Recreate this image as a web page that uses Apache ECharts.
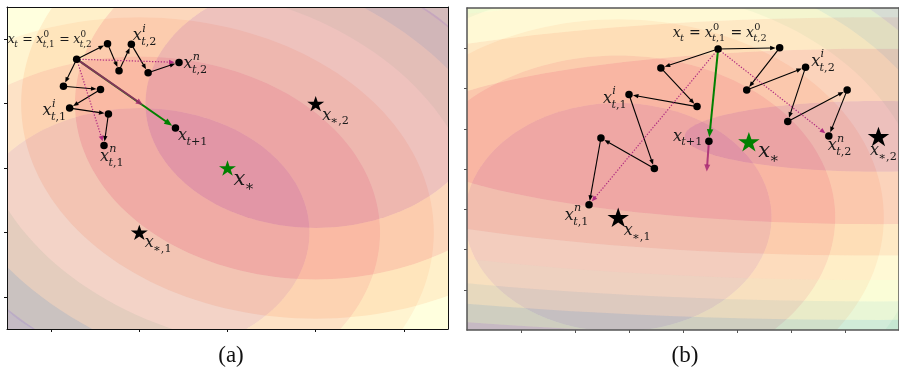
<!DOCTYPE html>
<html>
<head>
<meta charset="utf-8">
<script src="https://cdn.jsdelivr.net/npm/echarts@6/dist/echarts.min.js"></script>
<style>
  html, body { margin: 0; padding: 0; background: #fff; }
  #chart { width: 899px; height: 371px; }
</style>
</head>
<body>
<div id="chart"></div>
<script>
// ---------------- panel (a): two round objectives ----------------
const aOpt  = [0, 0];        // x_*
const aOpt1 = [-1, -1];      // x_{*,1}
const aOpt2 = [1, 1];        // x_{*,2}
const aRadii1 = [1.93, 2.73, 3.34, 3.86, 4.32, 4.73];   // contour radii around x_{*,1}
const aRadii2 = [1.93, 2.73, 3.34, 3.86, 4.32, 4.73];   // contour radii around x_{*,2}
const aXt = [-1.71, 1.69];
const aPath1 = [[-1.86, 1.27], [-1.44, 1.22], [-1.79, 0.93], [-1.35, 0.84], [-1.40, 0.35]];
const aPath2 = [[-1.36, 1.93], [-1.23, 1.51], [-1.09, 1.92], [-0.90, 1.48], [-0.55, 1.64]];
const aMean  = [-0.96, 0.98];
const aXnext = [-0.59, 0.62];

// ---------------- panel (b): round vs. elongated objective ----------------
const bOpt  = [5.22, 4.68];
const bOpt1 = [2.80, 2.80];
const bOpt2 = [7.62, 4.81];
const bRadii1  = [2.84, 4.02, 4.92, 5.68, 6.35, 6.96];
const bRadiiX2 = [3.59, 8.90, 12.1, 14.6, 16.7, 18.6, 20.3];
const bRadiiY2 = [0.88, 2.18, 2.96, 3.57, 4.10, 4.56, 4.98];
const bXt = [4.65, 6.98];
const bPath1 = [[3.59, 6.51], [4.26, 5.55], [3.00, 5.85], [3.47, 4.01], [2.48, 4.77], [2.26, 3.11]];
const bPath2 = [[5.79, 7.01], [5.18, 5.96], [6.27, 6.53], [5.94, 5.18], [7.04, 5.96], [6.70, 4.82]];
const bXnext = [4.48, 4.69];
const bDrift = [4.44, 3.94];

// axis ticks
const aTicks = [-2, -1, 0, 1, 2];
const bTicks = [1, 2, 3, 4, 5, 6, 7];

// label texts (TeX-like)
const aLabelText = ['x_t = x^0_{t,1} = x^0_{t,2}', 'x^i_{t,2}', 'x^n_{t,2}', 'x^i_{t,1}', 'x^n_{t,1}', 'x_{t+1}', 'x_*', 'x_{*,1}', 'x_{*,2}'];
const bLabelText = ['x_t = x^0_{t,1} = x^0_{t,2}', 'x^i_{t,2}', 'x^n_{t,2}', 'x^i_{t,1}', 'x^n_{t,1}', 'x_{t+1}', 'x_*', 'x_{*,1}', 'x_{*,2}'];
const aLabelAt = [aXt, aPath2[2], aPath2[4], aPath1[2], aPath1[4], aXnext, aOpt, aOpt1, aOpt2];
const bLabelAt = [bXt, bPath2[2], bPath2[5], bPath1[2], bPath1[5], bXnext, bOpt, bOpt1, bOpt2];

// ---------------- styling ----------------
// label placement relative to its anchor: [dx, dy, font size] in pixels
const aLabelLayout = [[-69, -18, 12.5], [1.5, -7, 16], [4.5, 3, 16], [-27, 4.2, 16], [-4, 12.7, 16], [2.5, 9.5, 16], [6, 13.3, 21], [5.5, 12, 16], [6.5, 13.3, 16]];
const bLabelLayout = [[-45.3, -14.5, 14], [5.6, -4, 16], [-1, 11.5, 16], [-26, 5.6, 16], [-24.3, 12.3, 16], [-36, -3.3, 16], [9.3, 12.1, 21], [5.6, 15.2, 16], [-8.4, 15.8, 16]];

const SPECTRAL = ['#9e0142', '#d53e4f', '#f46d43', '#fdae61', '#fee08b', '#ffffbf', '#e6f598', '#abdda4', '#66c2a5', '#3288bd', '#5e4fa2'];
const BAND_ALPHA = 0.29;
const MATH = '"DejaVu Serif", "Liberation Serif", serif';
const SERIF = '"Liberation Serif", "DejaVu Serif", serif';
const INK = '#1a1a1a';
const STAR = 'path://M0,-100 L22.45,-30.9 L95.1,-30.9 L36.3,11.8 L58.8,80.9 L0,38.2 L-58.8,80.9 L-36.3,11.8 L-95.1,-30.9 L-22.45,-30.9 Z';

const ARROW_STYLES = [
  { color: '#000000', width: 1.1, head: [5.5, 2.2], gap: 4,   dash: null },        // inner steps
  { color: '#b02c80', width: 1.2, head: [5.5, 2.4], gap: 4.5, dash: [1.3, 1.6] },  // accumulated local updates
  { color: '#008000', width: 2,   head: [8, 3.2],   gap: 4,   dash: null },        // global step
  { color: '#a3206f', width: 2,   head: [7, 3],     gap: 0,   dash: null, opacity: 0.8 } // averaged update
];

function hexRgb(h) { return [1, 3, 5].map(i => parseInt(h.slice(i, i + 2), 16)); }
function spectral(t, a) {
  const s = Math.max(0, Math.min(1, t)) * (SPECTRAL.length - 1);
  const i = Math.min(Math.floor(s), SPECTRAL.length - 2), f = s - i;
  const c0 = hexRgb(SPECTRAL[i]), c1 = hexRgb(SPECTRAL[i + 1]);
  const c = c0.map((v, k) => Math.round(v + (c1[k] - v) * f));
  return 'rgba(' + c.join(',') + ',' + a + ')';
}

// filled contour bands: one item per band between consecutive ellipses
function bandItems(centre, rx, ry) {
  const n = rx.length + 1, items = [];
  for (let i = 0; i < n; i++) {
    const inX = i > 0 ? rx[i - 1] : 0, inY = i > 0 ? ry[i - 1] : 0;
    const outX = i < rx.length ? rx[i] : rx[rx.length - 1] * 5;
    const outY = i < ry.length ? ry[i] : ry[ry.length - 1] * 5;
    items.push([centre[0], centre[1], inX, inY, outX, outY, i, n]);
  }
  return items;
}
function renderBand(params, api) {
  const cx = api.value(0), cy = api.value(1);
  const inX = api.value(2), inY = api.value(3), outX = api.value(4), outY = api.value(5);
  const i = api.value(6), n = api.value(7);
  const K = 180, pts = [];
  for (let k = 0; k <= K; k++) {
    const t = 2 * Math.PI * k / K;
    pts.push(api.coord([cx + outX * Math.cos(t), cy + outY * Math.sin(t)]));
  }
  if (inX > 0) {
    for (let k = K; k >= 0; k--) {
      const t = 2 * Math.PI * k / K;
      pts.push(api.coord([cx + inX * Math.cos(t), cy + inY * Math.sin(t)]));
    }
  }
  return { type: 'polygon', silent: true, shape: { points: pts }, style: { fill: spectral((i + 0.5) / n, BAND_ALPHA), stroke: null } };
}

function renderArrow(params, api) {
  const s = ARROW_STYLES[api.value(4)];
  const a = api.coord([api.value(0), api.value(1)]);
  const b = api.coord([api.value(2), api.value(3)]);
  let dx = b[0] - a[0], dy = b[1] - a[1];
  const len = Math.hypot(dx, dy); dx /= len; dy /= len;
  const tip = [b[0] - dx * s.gap, b[1] - dy * s.gap];
  const base = [tip[0] - dx * s.head[0], tip[1] - dy * s.head[0]];
  const px = -dy * s.head[1], py = dx * s.head[1];
  const op = s.opacity || 1;
  return {
    type: 'group', silent: true,
    children: [
      { type: 'line', shape: { x1: a[0], y1: a[1], x2: base[0] + dx, y2: base[1] + dy },
        style: { stroke: s.color, lineWidth: s.width, lineDash: s.dash, opacity: op } },
      { type: 'polygon', shape: { points: [tip, [base[0] + px, base[1] + py], [base[0] - px, base[1] - py]] },
        style: { fill: s.color, opacity: op } }
    ]
  };
}

// ---- tiny math typesetter ----
const mctx = document.createElement('canvas').getContext('2d');
function measure(txt, size, italic) {
  mctx.font = (italic ? 'italic ' : '') + size + 'px ' + MATH;
  return mctx.measureText(txt).width;
}
function textEl(ch, x, y, size, italic) {
  return { type: 'text', x: x, y: y, silent: true,
    style: { text: ch, fontSize: size, fontFamily: MATH, fontStyle: italic ? 'italic' : 'normal',
             fill: INK, align: 'left', verticalAlign: 'middle' } };
}
function parseTex(s) {
  const atoms = []; let i = 0;
  const group = () => {
    if (s[i] === '{') { const j = s.indexOf('}', i); const g = s.slice(i + 1, j); i = j + 1; return g; }
    return s[i++];
  };
  while (i < s.length) {
    const c = s[i];
    if (c === '^' || c === '_') { i++; const g = group(); const at = atoms[atoms.length - 1]; if (c === '^') at.sup = g; else at.sub = g; continue; }
    if (c === ' ') { i++; continue; }
    atoms.push(c === '=' ? { base: '=', op: true } : { base: c });
    i++;
  }
  return atoms;
}
function scriptRun(str, size, x0, y, out) {
  let x = x0;
  for (const c0 of str) {
    const c = c0 === '*' ? '\u2217' : c0;
    const it = /[a-z]/i.test(c);
    out.push(textEl(c, x, y, size, it));
    x += measure(c, size, it);
  }
  return x - x0;
}
function typeset(tex, size, x0, yMid, out) {
  const ss = Math.round(size * 0.7 * 10) / 10;
  let x = x0;
  for (const a of parseTex(tex)) {
    if (a.op) {
      x += size * 0.28;
      out.push(textEl('=', x, yMid, size, false));
      x += measure('=', size, false) + size * 0.28;
      continue;
    }
    const it = /[a-z]/i.test(a.base);
    out.push(textEl(a.base, x, yMid, size, it));
    x += measure(a.base, size, it);
    let w = 0;
    if (a.sup) w = Math.max(w, scriptRun(a.sup, ss, x + 0.3, yMid - 0.45 * size, out));
    if (a.sub) w = Math.max(w, scriptRun(a.sub, ss, x - 0.6, yMid + 0.37 * size, out));
    x += w + size * 0.04;
  }
}
function labelRenderer(texts, layout) {
  return function (params, api) {
    const p = api.coord([api.value(0), api.value(1)]);
    const L = layout[params.dataIndex];
    const out = [];
    typeset(texts[params.dataIndex], L[2], p[0] + L[0], p[1] + L[1] - 0.09 * L[2], out);
    return { type: 'group', children: out };
  };
}

function seg(from, to, kind) { return [from[0], from[1], to[0], to[1], kind]; }
function chain(start, pts, kind) {
  const out = []; let prev = start;
  pts.forEach(p => { out.push(seg(prev, p, kind)); prev = p; });
  return out;
}

function panelSeries(ax, p) {
  const base = { xAxisIndex: ax, yAxisIndex: ax };
  return [
    Object.assign({ type: 'custom', z: 1, clip: true, renderItem: renderBand, data: bandItems(p.c1, p.rx1, p.ry1) }, base),
    Object.assign({ type: 'custom', z: 1, clip: true, renderItem: renderBand, data: bandItems(p.c2, p.rx2, p.ry2) }, base),
    Object.assign({ type: 'custom', z: 3, renderItem: renderArrow, data: p.arrows }, base),
    Object.assign({ type: 'scatter', z: 4, symbol: 'circle', symbolSize: 7.5, silent: true,
                    itemStyle: { color: '#000', opacity: 1 }, data: p.dots }, base),
    Object.assign({ type: 'scatter', z: 5, symbol: STAR, symbolSize: p.starSize, symbolKeepAspect: true, silent: true,
                    itemStyle: { opacity: 1 }, data: p.stars }, base),
    Object.assign({ type: 'custom', z: 6, renderItem: labelRenderer(p.texts, p.layout), data: p.labelAt }, base)
  ];
}

const panelA = {
  c1: aOpt1, rx1: aRadii1, ry1: aRadii1,
  c2: aOpt2, rx2: aRadii2, ry2: aRadii2,
  arrows: [].concat(
    chain(aXt, aPath1, 0), chain(aXt, aPath2, 0),
    [seg(aXt, aPath1[aPath1.length - 1], 1), seg(aXt, aPath2[aPath2.length - 1], 1)],
    [seg(aXt, aXnext, 2), seg(aXt, aMean, 3)]
  ),
  dots: [aXt].concat(aPath1, aPath2, [aXnext]),
  stars: [
    { value: aOpt1, itemStyle: { color: '#000', opacity: 1 } },
    { value: aOpt2, itemStyle: { color: '#000', opacity: 1 } },
    { value: aOpt,  itemStyle: { color: '#008000', opacity: 1 } }
  ],
  starSize: [17, 16.2],
  texts: aLabelText, labelAt: aLabelAt, layout: aLabelLayout
};
const panelB = {
  c1: bOpt1, rx1: bRadii1, ry1: bRadii1,
  c2: bOpt2, rx2: bRadiiX2, ry2: bRadiiY2,
  arrows: [].concat(
    chain(bXt, bPath1, 0), chain(bXt, bPath2, 0),
    [seg(bXt, bPath1[bPath1.length - 1], 1), seg(bXt, bPath2[bPath2.length - 1], 1)],
    [seg(bXt, bXnext, 2), seg(bXnext, bDrift, 3)]
  ),
  dots: [bXt].concat(bPath1, bPath2, [bXnext]),
  stars: [
    { value: bOpt1, itemStyle: { color: '#000', opacity: 1 } },
    { value: bOpt2, itemStyle: { color: '#000', opacity: 1 } },
    { value: bOpt,  itemStyle: { color: '#008000', opacity: 1 } }
  ],
  starSize: [21.5, 20.5],
  texts: bLabelText, labelAt: bLabelAt, layout: bLabelLayout
};

function frameAxis(grid, min, max, pos, ticks, color, width) {
  return {
    type: 'value', gridIndex: grid, min: min, max: max, position: pos, z: 10,
    axisLine: { show: true, onZero: false, lineStyle: { color: color, width: width } },
    axisTick: ticks ? { show: true, inside: false, length: 3, customValues: ticks, lineStyle: { color: color, width: 1 } } : { show: false },
    axisLabel: { show: false },
    splitLine: { show: false }
  };
}

const chart = echarts.init(document.getElementById('chart'), null, { renderer: 'canvas' });
chart.setOption({
  animation: false,
  backgroundColor: '#ffffff',
  grid: [
    { left: 7, top: 7, width: 441, height: 322 },
    { left: 467, top: 8, width: 440, height: 322 }
  ],
  xAxis: [
    frameAxis(0, -2.5, 2.5, 'bottom', aTicks, '#111', 1),
    frameAxis(0, -2.5, 2.5, 'top', null, '#111', 1),
    frameAxis(1, 0, 8, 'bottom', bTicks, '#555', 1.5),
    frameAxis(1, 0, 8, 'top', null, '#555', 1.5)
  ],
  yAxis: [
    frameAxis(0, -2.5, 2.5, 'left', aTicks, '#111', 1),
    frameAxis(0, -2.5, 2.5, 'right', null, '#111', 1),
    frameAxis(1, 0, 8, 'left', bTicks, '#555', 1.5),
    frameAxis(1, 0, 8, 'right', null, '#555', 1.5)
  ],
  series: [].concat(panelSeries(0, panelA), panelSeries(2, panelB)),
  graphic: [
    { type: 'text', x: 231, y: 356, style: { text: '(a)', fontSize: 23, fontFamily: SERIF, fill: '#111', align: 'center', verticalAlign: 'middle' } },
    { type: 'text', x: 685, y: 356, style: { text: '(b)', fontSize: 23, fontFamily: SERIF, fill: '#111', align: 'center', verticalAlign: 'middle' } }
  ]
});
</script>
</body>
</html>
